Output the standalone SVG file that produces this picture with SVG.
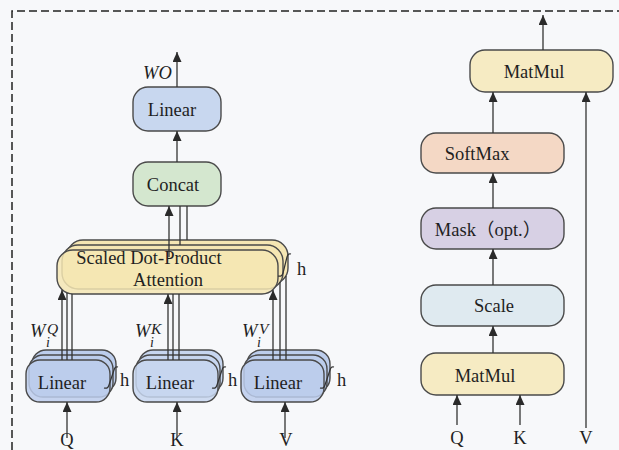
<svg xmlns="http://www.w3.org/2000/svg" width="619" height="450" viewBox="0 0 619 450" font-family="'Liberation Serif', 'Times New Roman', 'Noto Sans CJK SC', serif">
  <defs>
    <marker id="arrow" markerUnits="userSpaceOnUse" markerWidth="10" markerHeight="9" refX="10" refY="4.5" orient="auto">
      <path d="M0,0 L10,4.5 L0,9 z" fill="#2a2a2a"/>
    </marker>
    <style>
      .box { stroke: #4a4a4a; stroke-width: 1.4; }
      .lbl { font-size: 18.5px; fill: #1f1f1f; }
      .it { font-style: italic; }
      .wire { stroke: #333; stroke-width: 1.3; fill: none; }
      .arr { stroke: #333; stroke-width: 1.3; fill: none; marker-end: url(#arrow); }
      .curl { stroke: #333; stroke-width: 1.2; fill: none; }
      .blue { fill: #bccdec; }
      .blue2 { fill: #c7d6ef; }
      .yel { fill: #f5e6b3; }
    </style>
  </defs>

  <rect x="0" y="0" width="619" height="450" fill="#f7f8fa"/>

  <!-- dashed frame -->
  <path d="M12,450 L12,11 L619,11" fill="none" stroke="#222" stroke-width="1.5" stroke-dasharray="8,4"/>

  <!-- ===== Multi-head attention (left) ===== -->
  <g id="linear-out">
    <rect class="box" x="133" y="87" width="88" height="44" rx="15" fill="#c8d7ef"/>
    <text class="lbl" x="172" y="116" text-anchor="middle">Linear</text>
  </g>
  <text class="lbl it" x="143" y="79">WO</text>

  <g id="concat">
    <rect class="box" x="133" y="162" width="88" height="44" rx="15" fill="#d4e7cf"/>
    <text class="lbl" x="173" y="191" text-anchor="middle">Concat</text>
  </g>

  <g id="sdpa">
    <rect class="box yel" x="67" y="240" width="221" height="44" rx="16"/>
    <rect class="box yel" x="62" y="245" width="221" height="44" rx="16"/>
    <rect class="box yel" x="57" y="250" width="221" height="44" rx="16" fill-opacity="0.85"/>
    <text class="lbl" x="149" y="264" text-anchor="middle">Scaled Dot-Product</text>
    <text class="lbl" x="168" y="286" text-anchor="middle">Attention</text>
    <path class="curl" d="M291,254 q-3,-1 -4,3 l-4,16 q-1,4 -5,3"/>
    <text class="lbl" x="297" y="275">h</text>
  </g>

  <g id="linear-q">
    <rect class="box blue" x="32" y="350" width="84" height="42" rx="14"/>
    <rect class="box blue" x="29" y="355" width="84" height="42" rx="14"/>
    <rect class="box blue" x="26" y="360" width="84" height="42" rx="14" fill-opacity="0.85"/>
    <text class="lbl" x="62" y="389" text-anchor="middle">Linear</text>
    <path class="curl" d="M118,367 q-3,-1 -4,3 l-5,15 q-1,4 -5,3"/>
    <text class="lbl" x="120" y="386">h</text>
  </g>
  <g id="linear-k">
    <rect class="box blue2" x="139" y="350" width="84" height="42" rx="14"/>
    <rect class="box blue2" x="136" y="355" width="84" height="42" rx="14"/>
    <rect class="box blue2" x="133" y="360" width="85" height="42" rx="14" fill-opacity="0.85"/>
    <text class="lbl" x="170" y="389" text-anchor="middle">Linear</text>
    <path class="curl" d="M226,367 q-3,-1 -4,3 l-5,15 q-1,4 -5,3"/>
    <text class="lbl" x="228" y="386">h</text>
  </g>
  <g id="linear-v">
    <rect class="box blue" x="247" y="350" width="83" height="42" rx="14"/>
    <rect class="box blue" x="244" y="355" width="83" height="42" rx="14"/>
    <rect class="box blue" x="241" y="360" width="83" height="42" rx="14" fill-opacity="0.85"/>
    <text class="lbl" x="278" y="389" text-anchor="middle">Linear</text>
    <path class="curl" d="M334,367 q-3,-1 -4,3 l-5,15 q-1,4 -5,3"/>
    <text class="lbl" x="337" y="386">h</text>
  </g>

  <!-- projection weight labels -->
  <g class="lbl it">
    <text x="30" y="337">W</text><text x="47" y="334" font-size="15.5">Q</text><text x="46" y="347" font-size="14">i</text>
    <text x="135" y="337">W</text><text x="151" y="334" font-size="15.5">K</text><text x="150" y="347" font-size="14">i</text>
    <text x="242" y="337">W</text><text x="259" y="334" font-size="15.5">V</text><text x="257" y="347" font-size="14">i</text>
  </g>

  <!-- inputs -->
  <g class="lbl" text-anchor="middle">
    <text x="67" y="446">Q</text>
    <text x="177" y="446">K</text>
    <text x="286" y="446">V</text>
  </g>

  <!-- ===== Scaled dot-product attention (right) ===== -->
  <g id="matmul-top">
    <rect class="box" x="470" y="50" width="143" height="42" rx="15" fill="#f6ebc3"/>
    <text class="lbl" x="534" y="78" text-anchor="middle" font-size="19">MatMul</text>
  </g>
  <g id="softmax">
    <rect class="box" x="421" y="133" width="143" height="40" rx="15" fill="#f4d8c5"/>
    <text class="lbl" x="477" y="160" text-anchor="middle" font-size="19">SoftMax</text>
  </g>
  <g id="mask">
    <rect class="box" x="421" y="208" width="143" height="41" rx="15" fill="#d7d0e4"/>
    <text class="lbl" x="488" y="236" text-anchor="middle">Mask（opt.）</text>
  </g>
  <g id="scale">
    <rect class="box" x="421" y="285" width="143" height="41" rx="15" fill="#dfeaf0"/>
    <text class="lbl" x="494" y="312" text-anchor="middle" font-size="19">Scale</text>
  </g>
  <g id="matmul-bottom">
    <rect class="box" x="421" y="353" width="143" height="42" rx="15" fill="#f6ebc3"/>
    <text class="lbl" x="485" y="382" text-anchor="middle" font-size="19">MatMul</text>
  </g>
  <g class="lbl" text-anchor="middle">
    <text x="457" y="444">Q</text>
    <text x="520" y="444">K</text>
    <text x="586" y="444">V</text>
  </g>

  <!-- connectors -->
  <g id="connectors">
    <line class="arr" x1="177" y1="87" x2="177" y2="52"/>
    <line class="arr" x1="177" y1="162" x2="177" y2="131"/>
    <line class="arr" x1="169" y1="257" x2="169" y2="206"/>
    <line class="wire" x1="180" y1="245" x2="180" y2="206"/>
    <line class="wire" x1="187" y1="240" x2="187" y2="206"/>

    <line class="arr" x1="62" y1="360" x2="62" y2="290"/>
    <line class="wire" x1="67" y1="360" x2="67" y2="293"/>
    <line class="wire" x1="72" y1="360" x2="72" y2="294"/>
    <line class="arr" x1="168" y1="360" x2="168" y2="294"/>
    <line class="wire" x1="173" y1="360" x2="173" y2="294"/>
    <line class="wire" x1="179" y1="360" x2="179" y2="294"/>
    <line class="arr" x1="273" y1="360" x2="273" y2="290"/>
    <line class="wire" x1="280" y1="360" x2="280" y2="282"/>
    <line class="wire" x1="286" y1="360" x2="286" y2="276"/>

    <line class="arr" x1="67" y1="438" x2="67" y2="402"/>
    <line class="arr" x1="177" y1="438" x2="177" y2="402"/>
    <line class="arr" x1="285" y1="438" x2="285" y2="402"/>

    <line class="arr" x1="543" y1="50" x2="543" y2="15"/>
    <line class="arr" x1="493" y1="133" x2="493" y2="92"/>
    <line class="arr" x1="493" y1="208" x2="493" y2="173"/>
    <line class="arr" x1="493" y1="285" x2="493" y2="249"/>
    <line class="arr" x1="493" y1="353" x2="493" y2="326"/>
    <line class="arr" x1="457" y1="425" x2="457" y2="395"/>
    <line class="arr" x1="520" y1="425" x2="520" y2="395"/>
    <line class="arr" x1="586" y1="428" x2="586" y2="92"/>
  </g>
</svg>
